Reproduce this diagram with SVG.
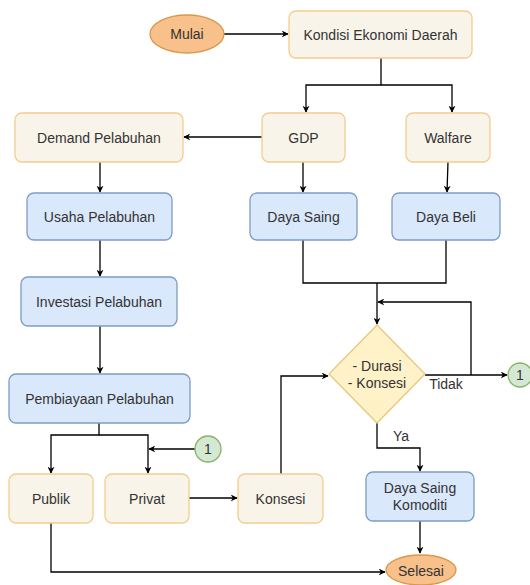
<svg xmlns="http://www.w3.org/2000/svg" width="530" height="585" viewBox="0 0 530 585">
<defs>
<style>
.t{font-family:"Liberation Sans",Arial,sans-serif;font-size:14px;fill:#333;text-anchor:middle;dominant-baseline:central}
.o{fill:#f8f4ea;stroke:#f4cd8c;stroke-width:1.3}
.b{fill:#dae8fc;stroke:#7d9cc6;stroke-width:1.3}
.e{fill:#f8c08a;stroke:#d9984a;stroke-width:1.3}
.d{fill:#fff1c8;stroke:#e8c97a;stroke-width:1.3}
.g{fill:#d5e8d4;stroke:#82b366;stroke-width:1.3}
.c{fill:none;stroke:#000;stroke-width:1.3}
</style>
<marker id="a" viewBox="0 0 10 10" refX="9" refY="5" markerWidth="7" markerHeight="7" orient="auto" markerUnits="userSpaceOnUse"><path d="M0,0 L10,5 L0,10 L3,5 Z" fill="#000"/></marker>
</defs>
<g id="connectors">
<path class="c" d="M224,34 H288" marker-end="url(#a)"/>
<path class="c" d="M381,58 V85 H306 V112" marker-end="url(#a)"/>
<path class="c" d="M381,85 H452 V112" marker-end="url(#a)"/>
<path class="c" d="M262,137 H184" marker-end="url(#a)"/>
<path class="c" d="M100,162 V192" marker-end="url(#a)"/>
<path class="c" d="M303,162 V192" marker-end="url(#a)"/>
<path class="c" d="M448,162 L447,192" marker-end="url(#a)"/>
<path class="c" d="M100,240 V276" marker-end="url(#a)"/>
<path class="c" d="M100,326 V373" marker-end="url(#a)"/>
<path class="c" d="M303,240 V283 H446 V240"/>
<path class="c" d="M377,283 V324" marker-end="url(#a)"/>
<path class="c" d="M425,375 H507" marker-end="url(#a)"/>
<path class="c" d="M471,375 V302 H378" marker-end="url(#a)"/>
<path class="c" d="M281,474 V376 H328" marker-end="url(#a)"/>
<path class="c" d="M377,423 V448 H420 V471" marker-end="url(#a)"/>
<path class="c" d="M420,521 V553" marker-end="url(#a)"/>
<path class="c" d="M99,423 V435 H51 V473" marker-end="url(#a)"/>
<path class="c" d="M99,435 H148 V473" marker-end="url(#a)"/>
<path class="c" d="M195,449 H149" marker-end="url(#a)"/>
<path class="c" d="M189,498 H237" marker-end="url(#a)"/>
<path class="c" d="M51,523 V572 H385" marker-end="url(#a)"/>
<text class="t" x="446" y="384">Tidak</text>
<text class="t" x="401" y="436">Ya</text>
</g>
<g id="mulai"><ellipse class="e" cx="187" cy="34" rx="37" ry="19"/><text class="t" x="187" y="34">Mulai</text></g>
<g id="kondisi"><rect class="o" x="289" y="11" width="183" height="47" rx="7"/><text class="t" x="380.5" y="34.5">Kondisi Ekonomi Daerah</text></g>
<g id="demand"><rect class="o" x="15" y="113" width="168" height="49" rx="7"/><text class="t" x="99" y="137.5">Demand Pelabuhan</text></g>
<g id="gdp"><rect class="o" x="262" y="113" width="83" height="49" rx="7"/><text class="t" x="303.5" y="137.5">GDP</text></g>
<g id="walfare"><rect class="o" x="406" y="113" width="84" height="49" rx="7"/><text class="t" x="448" y="137.5">Walfare</text></g>
<g id="usaha"><rect class="b" x="27" y="193" width="145" height="47" rx="7"/><text class="t" x="99.5" y="216.5">Usaha Pelabuhan</text></g>
<g id="dayasaing"><rect class="b" x="250" y="193" width="107" height="47" rx="7"/><text class="t" x="303.5" y="216.5">Daya Saing</text></g>
<g id="dayabeli"><rect class="b" x="392" y="193" width="108" height="47" rx="7"/><text class="t" x="446" y="216.5">Daya Beli</text></g>
<g id="investasi"><rect class="b" x="21" y="277" width="156" height="49" rx="7"/><text class="t" x="99" y="301.5">Investasi Pelabuhan</text></g>
<g id="pembiayaan"><rect class="b" x="9" y="374" width="181" height="49" rx="7"/><text class="t" x="99.5" y="398.5">Pembiayaan Pelabuhan</text></g>
<g id="keputusan"><path class="d" d="M377,325 L425,374 L377,423 L329,374 Z"/><text class="t" x="377" y="366">- Durasi</text><text class="t" x="377" y="383">- Konsesi</text></g>
<g id="konektor1a"><circle class="g" cx="520" cy="375" r="12"/><text class="t" x="520" y="375">1</text></g>
<g id="konektor1b"><circle class="g" cx="208" cy="449" r="13"/><text class="t" x="208" y="449">1</text></g>
<g id="publik"><rect class="o" x="9" y="474" width="84" height="49" rx="7"/><text class="t" x="51" y="498.5">Publik</text></g>
<g id="privat"><rect class="o" x="105" y="474" width="84" height="49" rx="7"/><text class="t" x="147" y="498.5">Privat</text></g>
<g id="konsesi"><rect class="o" x="238" y="474" width="85" height="49" rx="7"/><text class="t" x="280.5" y="498.5">Konsesi</text></g>
<g id="komoditi"><rect class="b" x="366" y="472" width="108" height="49" rx="7"/><text class="t" x="420" y="488">Daya Saing</text><text class="t" x="420" y="505">Komoditi</text></g>
<g id="selesai"><ellipse class="e" cx="421" cy="570" rx="35" ry="15"/><text class="t" x="421" y="571">Selesai</text></g>
</svg>
